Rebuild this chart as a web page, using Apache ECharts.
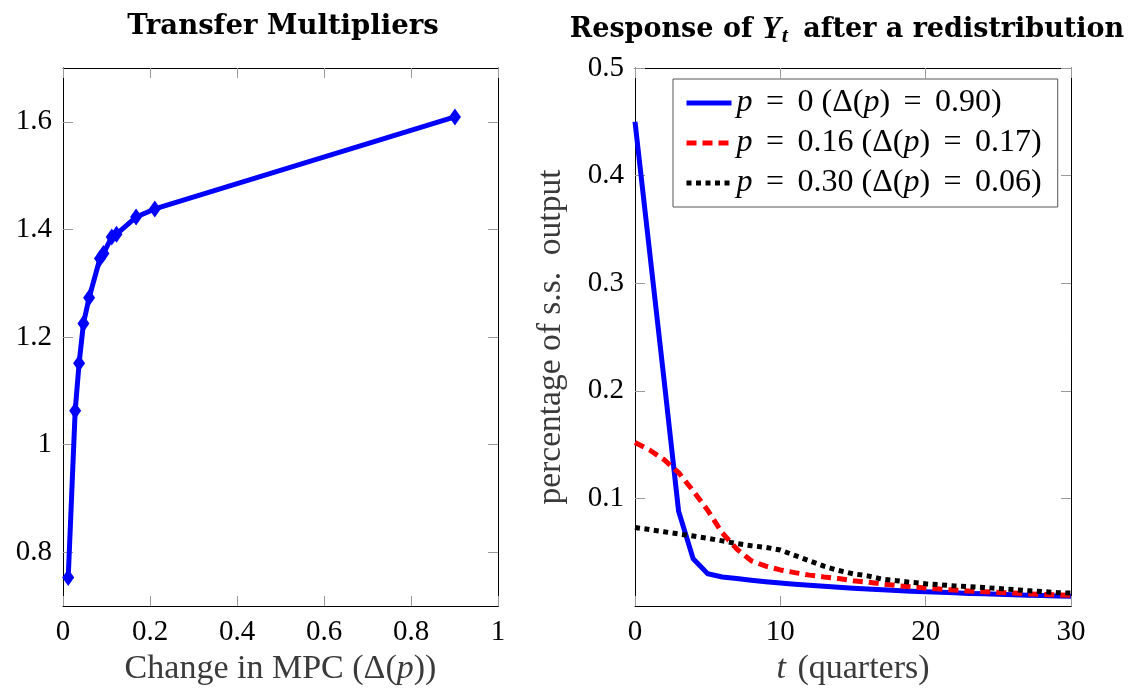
<!DOCTYPE html>
<html>
<head>
<meta charset="utf-8">
<script src="https://cdn.jsdelivr.net/npm/echarts@6/dist/echarts.min.js"></script>
<style>
  html, body { margin: 0; padding: 0; background: #fff; }
  #chart { width: 1139px; height: 688px; }
</style>
</head>
<body>
<div id="chart"></div>
<script>
// Left panel: transfer multiplier against the change in MPC
const mpcChange  = [0.012, 0.028, 0.037, 0.047, 0.060, 0.085, 0.093, 0.112, 0.123, 0.168, 0.211, 0.901];
const multiplier = [0.753, 1.063, 1.151, 1.225, 1.273, 1.346, 1.355, 1.386, 1.391, 1.423, 1.438, 1.609];
const leftXTicks = [0, 0.2, 0.4, 0.6, 0.8, 1];
const leftYTicks = [0.8, 1, 1.2, 1.4, 1.6];

// Right panel: response of output after a redistribution, by quarter
const quarters = [0, 1, 2, 3, 4, 5, 6, 7, 8, 9, 10, 11, 12, 13, 14, 15, 16, 17, 18, 19, 20,
                  21, 22, 23, 24, 25, 26, 27, 28, 29, 30];
const yP0  = [0.450, 0.330, 0.210, 0.088, 0.044, 0.030, 0.027, 0.0255, 0.024, 0.0225, 0.0213,
              0.0202, 0.0192, 0.0183, 0.0174, 0.0166, 0.0158, 0.0151, 0.0144, 0.0138, 0.0132,
              0.0127, 0.0122, 0.0117, 0.0113, 0.0109, 0.0105, 0.0101, 0.0097, 0.0093, 0.0090];
const yP16 = [0.152, 0.145, 0.136, 0.124, 0.107, 0.089, 0.068, 0.053, 0.042, 0.037, 0.0335,
              0.031, 0.0287, 0.027, 0.0255, 0.0235, 0.0222, 0.0205, 0.019, 0.0178, 0.0167,
              0.0157, 0.0148, 0.014, 0.0133, 0.0126, 0.012, 0.0113, 0.0108, 0.0103, 0.010];
const yP30 = [0.073, 0.071, 0.069, 0.067, 0.065, 0.063, 0.0605, 0.058, 0.056, 0.0545, 0.052,
              0.047, 0.042, 0.037, 0.033, 0.030, 0.028, 0.025, 0.0235, 0.022, 0.0207,
              0.0197, 0.0187, 0.018, 0.0172, 0.0163, 0.0153, 0.0143, 0.0135, 0.0125, 0.012];
const rightXTicks = [0, 10, 20, 30];
const rightYTicks = [0.1, 0.2, 0.3, 0.4, 0.5];
const seriesNames = ['p = 0 (Δ(p) = 0.90)', 'p = 0.16 (Δ(p) = 0.17)', 'p = 0.30 (Δ(p) = 0.06)'];

const FONT = 'Liberation Serif';
const TITLE_FONT = 'DejaVu Serif';
const FS = 29;
const NAME_FS = 34;
const LEG_FS = 32;
const TICK_COLOR = '#9a9a9a';
const NAME_COLOR = '#3a3a3a';

function pairs(xs, ys) { return xs.map((x, i) => [x, ys[i]]); }

// italic "p" and widely spaced "=" inside math-like labels
function mathRich(name) {
  return '{r|' + name.replace(/ = /g, '}{e|=}{r|').replace(/p/g, '}{i|p}{r|') + '}';
}

function frameAxis(common, extra) {
  return Object.assign({
    axisLine: { show: true, onZero: false, lineStyle: { color: '#000', width: 1 } },
    axisTick: { show: true, inside: true, length: 10, lineStyle: { color: TICK_COLOR, width: 1 } },
    splitLine: { show: false },
    axisLabel: { show: false }
  }, common, extra);
}

const labelStyle = { color: '#000', fontFamily: FONT, fontSize: FS };

const chart = echarts.init(document.getElementById('chart'), null, { renderer: 'canvas' });

chart.setOption({
  animation: false,
  backgroundColor: '#fff',
  title: [
    {
      text: 'Transfer Multipliers',
      left: 278, top: 8, textAlign: 'center',
      textStyle: { fontFamily: TITLE_FONT, fontWeight: 'bold', fontSize: 27.5, color: '#000' }
    },
    {
      text: '{b|Response of }{y|Y}{s|t}{b| after a redistribution}',
      left: 842, top: 8, textAlign: 'center',
      textStyle: {
        fontFamily: TITLE_FONT, fontSize: 27, color: '#000',
        rich: {
          b: { fontFamily: TITLE_FONT, fontWeight: 'bold', fontSize: 27, lineHeight: 34, color: '#000' },
          y: { fontFamily: FONT, fontStyle: 'italic', fontSize: 31, lineHeight: 34, color: '#000', padding: [0, 1, 0, 0] },
          s: { fontFamily: FONT, fontStyle: 'italic', fontSize: 22, lineHeight: 20, verticalAlign: 'bottom', color: '#000', padding: [0, 6, 0, 0] }
        }
      }
    }
  ],
  legend: {
    show: true,
    orient: 'vertical',
    left: 673, top: 79,
    data: seriesNames,
    backgroundColor: '#fff',
    borderColor: '#555',
    borderWidth: 1,
    borderRadius: 0,
    padding: [8, 16, 8, 11],
    itemGap: 8,
    itemWidth: 45,
    itemHeight: 14,
    selectedMode: false,
    itemStyle: { opacity: 0, borderWidth: 0 },
    lineStyle: { width: 'inherit', type: 'inherit', color: 'inherit', opacity: 1 },
    formatter: mathRich,
    textStyle: {
      fontFamily: FONT, fontSize: LEG_FS, color: '#000', lineHeight: 30,
      rich: {
        r: { fontFamily: FONT, fontSize: LEG_FS, color: '#000', lineHeight: 30 },
        e: { fontFamily: FONT, fontSize: LEG_FS, color: '#000', lineHeight: 30, width: 45, align: 'center' },
        i: { fontFamily: FONT, fontSize: LEG_FS, fontStyle: 'italic', color: '#000', lineHeight: 30 }
      }
    }
  },
  grid: [
    { left: 63, top: 68, width: 435, height: 538, containLabel: false, outerBoundsMode: 'none' },
    { left: 635, top: 68, width: 436, height: 538, containLabel: false, outerBoundsMode: 'none' }
  ],
  xAxis: [
    frameAxis({ type: 'value', gridIndex: 0, min: 0, max: 1, interval: 0.2 }, {
      position: 'bottom',
      axisLabel: { show: true, margin: 12, ...labelStyle, customValues: leftXTicks },
      axisTick: { show: true, inside: true, length: 10, customValues: leftXTicks, lineStyle: { color: TICK_COLOR } },
      name: '{r|Change in MPC (Δ(}{i|p}{r|))}',
      nameLocation: 'middle', nameGap: 45,
      nameTextStyle: {
        fontFamily: FONT, fontSize: NAME_FS, color: NAME_COLOR,
        rich: {
          r: { fontFamily: FONT, fontSize: NAME_FS, color: NAME_COLOR },
          i: { fontFamily: FONT, fontSize: NAME_FS, fontStyle: 'italic', color: NAME_COLOR }
        }
      }
    }),
    frameAxis({ type: 'value', gridIndex: 0, min: 0, max: 1, interval: 0.2 }, { position: 'top' }),
    frameAxis({ type: 'value', gridIndex: 1, min: 0, max: 30, interval: 10 }, {
      position: 'bottom',
      axisLabel: { show: true, margin: 12, ...labelStyle, customValues: rightXTicks },
      axisTick: { show: true, inside: true, length: 10, customValues: rightXTicks, lineStyle: { color: TICK_COLOR } },
      name: '{i|t}{r| (quarters)}',
      nameLocation: 'middle', nameGap: 45,
      nameTextStyle: {
        fontFamily: FONT, fontSize: NAME_FS, color: NAME_COLOR,
        rich: {
          r: { fontFamily: FONT, fontSize: NAME_FS, color: NAME_COLOR },
          i: { fontFamily: FONT, fontSize: NAME_FS, fontStyle: 'italic', color: NAME_COLOR, padding: [0, 3, 0, 0] }
        }
      }
    }),
    frameAxis({ type: 'value', gridIndex: 1, min: 0, max: 30, interval: 10 }, { position: 'top' })
  ],
  yAxis: [
    frameAxis({ type: 'value', gridIndex: 0, min: 0.7, max: 1.7 }, {
      position: 'left',
      axisLabel: { show: true, margin: 11, ...labelStyle, customValues: leftYTicks },
      axisTick: { show: true, inside: true, length: 10, customValues: leftYTicks, lineStyle: { color: TICK_COLOR } }
    }),
    frameAxis({ type: 'value', gridIndex: 0, min: 0.7, max: 1.7 }, {
      position: 'right',
      axisTick: { show: true, inside: true, length: 10, customValues: leftYTicks, lineStyle: { color: TICK_COLOR } }
    }),
    frameAxis({ type: 'value', gridIndex: 1, min: 0, max: 0.5, interval: 0.1 }, {
      position: 'left',
      axisLabel: { show: true, margin: 11, ...labelStyle, customValues: rightYTicks },
      axisTick: { show: true, inside: true, length: 10, customValues: rightYTicks, lineStyle: { color: TICK_COLOR } },
      name: 'percentage of s.s.  output',
      nameLocation: 'middle', nameGap: 67,
      nameTextStyle: { fontFamily: FONT, fontSize: 33.5, color: NAME_COLOR }
    }),
    frameAxis({ type: 'value', gridIndex: 1, min: 0, max: 0.5, interval: 0.1 }, {
      position: 'right',
      axisTick: { show: true, inside: true, length: 10, customValues: rightYTicks, lineStyle: { color: TICK_COLOR } }
    })
  ],
  series: [
    {
      type: 'line',
      name: 'multiplier',
      xAxisIndex: 0, yAxisIndex: 0,
      data: pairs(mpcChange, multiplier),
      symbol: 'diamond', symbolSize: [12, 17],
      lineStyle: { color: '#0000ff', width: 5 },
      itemStyle: { color: '#0000ff' },
      z: 3
    },
    {
      type: 'line',
      name: seriesNames[0],
      xAxisIndex: 2, yAxisIndex: 2,
      data: pairs(quarters, yP0),
      symbol: 'none', showSymbol: false,
      lineStyle: { color: '#0000ff', width: 5, cap: 'butt', join: 'miter' },
      itemStyle: { color: '#0000ff' },
      z: 2
    },
    {
      type: 'line',
      name: seriesNames[1],
      xAxisIndex: 2, yAxisIndex: 2,
      data: pairs(quarters, yP16),
      symbol: 'none', showSymbol: false,
      lineStyle: { color: '#ff0000', width: 5, type: [10, 6], cap: 'butt' },
      itemStyle: { color: '#ff0000' },
      z: 3
    },
    {
      type: 'line',
      name: seriesNames[2],
      xAxisIndex: 2, yAxisIndex: 2,
      data: pairs(quarters, yP30),
      symbol: 'none', showSymbol: false,
      lineStyle: { color: '#000000', width: 5, type: [5, 4.5], cap: 'butt' },
      itemStyle: { color: '#000000' },
      z: 4
    }
  ]
});
</script>
</body>
</html>
